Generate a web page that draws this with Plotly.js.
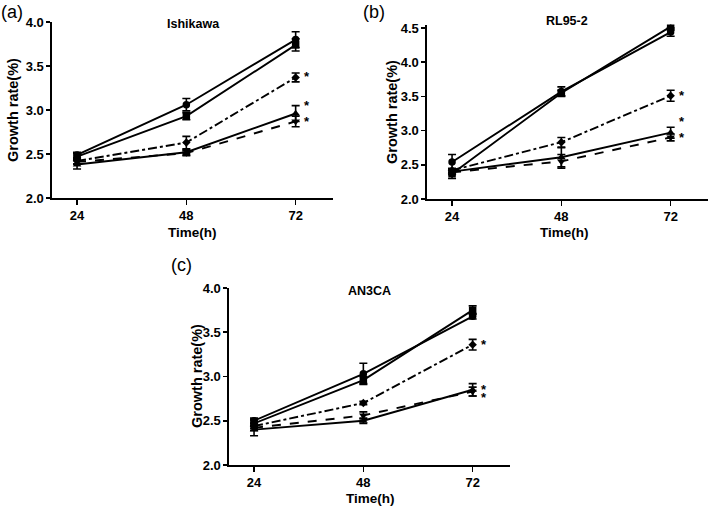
<!DOCTYPE html>
<html>
<head>
<meta charset="utf-8">
<script src="https://cdn.plot.ly/plotly-3.0.1.min.js"></script>
<style>html,body{margin:0;padding:0;background:#fff;}#chart{width:709px;height:509px;}</style>
</head>
<body>
<div id="chart"></div>
<script>
// ---- data ----
var times = [24, 48, 72];
var timeTicks = ['24', '48', '72'];

var panelTitles = ['Ishikawa', 'RL95-2', 'AN3CA'];
var panelLabels = ['(a)', '(b)', '(c)'];

// Panel (a) Ishikawa
var A_circle = [2.49, 3.06, 3.80], A_circleErr = [0.03, 0.07, 0.09];
var A_square = [2.47, 2.93, 3.74], A_squareErr = [0.04, 0.04, 0.07];
var A_diamond = [2.42, 2.63, 3.37], A_diamondErr = [0.03, 0.07, 0.05];
var A_up = [2.38, 2.52, 2.96], A_upErr = [0.05, 0.03, 0.09];
var A_down = [2.41, 2.51, 2.87], A_downErr = [0.03, 0.03, 0.06];
var A_stars = [3.42, 3.08, 2.90];

// Panel (b) RL95-2
var B_circle = [2.54, 3.57, 4.44], B_circleErr = [0.11, 0.07, 0.06];
var B_square = [2.37, 3.55, 4.52], B_squareErr = [0.07, 0.04, 0.05];
var B_diamond = [2.42, 2.83, 3.51], B_diamondErr = [0.03, 0.07, 0.08];
var B_up = [2.40, 2.61, 2.97], B_upErr = [0.04, 0.14, 0.08];
var B_down = [2.39, 2.55, 2.90], B_downErr = [0.03, 0.10, 0.05];
var B_stars = [3.56, 3.17, 2.95];

// Panel (c) AN3CA
var C_circle = [2.50, 3.03, 3.68], C_circleErr = [0.03, 0.12, 0.03];
var C_square = [2.47, 2.96, 3.75], C_squareErr = [0.04, 0.04, 0.05];
var C_diamond = [2.44, 2.70, 3.36], C_diamondErr = [0.03, 0.02, 0.06];
var C_up = [2.40, 2.50, 2.85], C_upErr = [0.07, 0.03, 0.07];
var C_down = [2.42, 2.56, 2.83], C_downErr = [0.03, 0.04, 0.05];
var C_stars = [3.40, 2.885, 2.80];

// y-axis tick values per panel
var yTicksA = [2, 2.5, 3, 3.5, 4];
var yTicksB = [2, 2.5, 3, 3.5, 4, 4.5];
var yTicksC = [2, 2.5, 3, 3.5, 4];

// ---- build ----
var FONT = 'Liberation Sans, Arial, sans-serif';
var styles = [
  {symbol: 'circle', dash: 'solid', size: 7.5},
  {symbol: 'square', dash: 'solid', size: 7.5},
  {symbol: 'diamond', dash: 'dashdot', size: 6.5},
  {symbol: 'triangle-up', dash: 'solid', size: 7.5},
  {symbol: 'triangle-down', dash: 'dash', size: 7.5}
];
var panels = [
  {series: [A_circle, A_square, A_diamond, A_up, A_down], errs: [A_circleErr, A_squareErr, A_diamondErr, A_upErr, A_downErr], stars: A_stars},
  {series: [B_circle, B_square, B_diamond, B_up, B_down], errs: [B_circleErr, B_squareErr, B_diamondErr, B_upErr, B_downErr], stars: B_stars},
  {series: [C_circle, C_square, C_diamond, C_up, C_down], errs: [C_circleErr, C_squareErr, C_diamondErr, C_upErr, C_downErr], stars: C_stars}
];

var W = 709, H = 509;
// pixel boxes [left, right, top, bottom]
var boxes = [[52, 333, 22, 198], [427, 708, 24.6, 199], [229, 510, 288, 465]];
var yRanges = [[2, 4], [2, 4.55], [2, 4]];
var yTicks = [yTicksA, yTicksB, yTicksC];

var traces = [];
var annotations = [];
var layout = {
  width: W, height: H,
  margin: {l: 0, r: 0, t: 0, b: 0},
  paper_bgcolor: '#fff', plot_bgcolor: 'rgba(0,0,0,0)',
  showlegend: false,
  font: {family: FONT, color: '#000'},
  annotations: annotations
};

var yTitlePos = [[13, 110], [392, 112], [197, 376]];
var xTitlePos = [[192, 232], [564, 233], [370, 498]];
var pTitlePos = [[193, 24], [567, 21], [369, 291]];
var labelPos = [[12, 12], [374, 12], [181, 265]];

function bold(s) { return '<b>' + s + '</b>'; }

panels.forEach(function (p, i) {
  var n = i + 1;
  var xa = 'x' + (n === 1 ? '' : n), ya = 'y' + (n === 1 ? '' : n);
  var b = boxes[i];
  p.series.forEach(function (vals, k) {
    var s = styles[k];
    traces.push({
      type: 'scatter', mode: 'lines+markers',
      x: times, y: vals, xaxis: xa, yaxis: ya,
      line: {color: '#000', width: 1.9, dash: s.dash},
      marker: {symbol: s.symbol, size: s.size, color: '#000'},
      error_y: {type: 'data', array: p.errs[k], visible: true, color: '#000', thickness: 1.6, width: 4}
    });
  });
  p.stars.forEach(function (sy) {
    annotations.push({xref: xa, yref: ya, x: times[2], y: sy, text: '<b>*</b>', showarrow: false,
      xshift: 11, yshift: -3, font: {size: 13, family: FONT, color: '#000'}});
  });
  var axBase = {
    showline: true, linecolor: '#000', linewidth: 1.6, mirror: false,
    ticks: 'outside', ticklen: 4, tickwidth: 1.6, tickcolor: '#000',
    showgrid: false, zeroline: false,
    tickfont: {family: FONT, size: 13, color: '#000'}
  };
  layout['xaxis' + (n === 1 ? '' : n)] = Object.assign({}, axBase, {
    domain: [b[0] / W, b[1] / W], anchor: ya, range: [18.5, 80.2],
    tickmode: 'array', tickvals: times, ticktext: timeTicks.map(bold), ticklen: 5
  });
  layout['yaxis' + (n === 1 ? '' : n)] = Object.assign({}, axBase, {
    domain: [1 - b[3] / H, 1 - b[2] / H], anchor: xa, range: yRanges[i],
    tickmode: 'array', tickvals: yTicks[i],
    ticktext: yTicks[i].map(function (v) { return bold(v.toFixed(1)); })
  });
  annotations.push({xref: 'paper', yref: 'paper', x: yTitlePos[i][0] / W, y: 1 - yTitlePos[i][1] / H,
    text: '<b>Growth rate(%)</b>', textangle: -90, showarrow: false, xanchor: 'center', yanchor: 'middle',
    font: {size: 14.5, family: FONT, color: '#000'}});
  annotations.push({xref: 'paper', yref: 'paper', x: xTitlePos[i][0] / W, y: 1 - xTitlePos[i][1] / H,
    text: '<b>Time(h)</b>', showarrow: false, xanchor: 'center', yanchor: 'middle',
    font: {size: 13.5, family: FONT, color: '#000'}});
  annotations.push({xref: 'paper', yref: 'paper', x: pTitlePos[i][0] / W, y: 1 - pTitlePos[i][1] / H,
    text: '<b>' + panelTitles[i] + '</b>', showarrow: false, xanchor: 'center', yanchor: 'middle',
    font: {size: 12.5, family: FONT, color: '#000'}});
  annotations.push({xref: 'paper', yref: 'paper', x: labelPos[i][0] / W, y: 1 - labelPos[i][1] / H,
    text: panelLabels[i], showarrow: false, xanchor: 'center', yanchor: 'middle',
    font: {size: 18, family: FONT, color: '#000'}});
});

Plotly.newPlot('chart', traces, layout, {displayModeBar: false, staticPlot: true});
</script>
</body>
</html>
